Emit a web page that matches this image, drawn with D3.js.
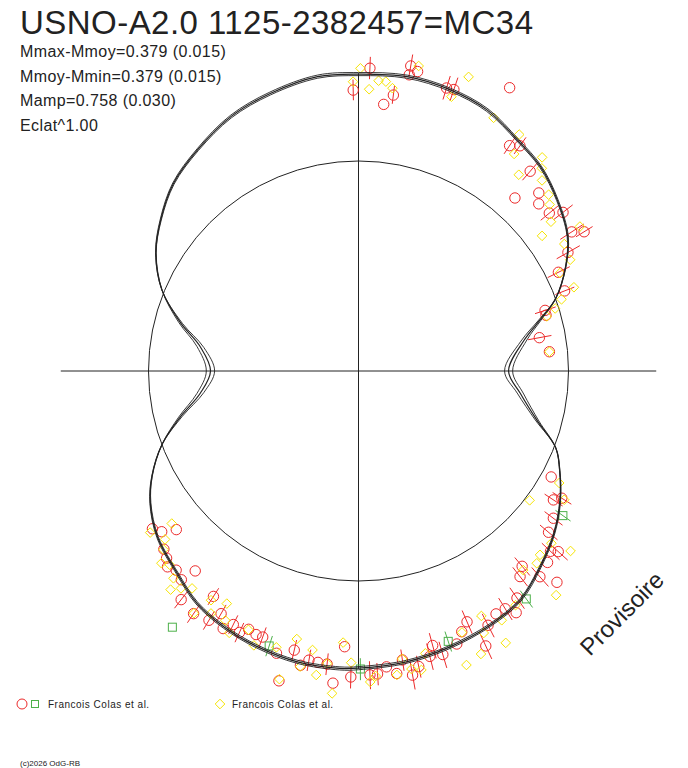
<!DOCTYPE html>
<html>
<head>
<meta charset="utf-8">
<script src="https://cdn.jsdelivr.net/npm/d3@7"></script>
<style>
  body { margin: 0; background: #fff; }
  svg { display: block; }
  text { font-family: "Liberation Sans", Arial, sans-serif; fill: #222; }
</style>
</head>
<body>
<svg id="chart" width="688" height="768"></svg>
<script>
// phase runs 0..1 clockwise from the top, mag is relative to the mean magnitude
var fitPhase = [0.000,0.026,0.050,0.073,0.096,0.116,0.137,0.159,0.176,0.194,0.206,0.221,0.250,0.272,0.293,0.309,0.323,0.341,0.360,0.381,
  0.402,0.424,0.449,0.474,0.500,0.510,0.533,0.556,0.577,0.597,0.616,0.640,0.660,0.675,0.693,0.710,0.728,0.750,0.774,0.792,
  0.812,0.834,0.854,0.876,0.900,0.926,0.951,0.978]
var fitMag = [-0.376,-0.381,-0.372,-0.354,-0.314,-0.287,-0.241,-0.184,-0.107,0.000,0.114,0.241,0.365,0.272,0.136,-0.008,-0.072,-0.144,-0.207,-0.262,
  -0.314,-0.336,-0.353,-0.368,-0.377,-0.380,-0.377,-0.364,-0.347,-0.323,-0.280,-0.235,-0.174,-0.107,0.001,0.145,0.298,0.380,0.296,0.142,
  -0.012,-0.120,-0.185,-0.246,-0.287,-0.330,-0.355,-0.377]

// red circles (with mag error, 0 = no bar drawn)
var redPhase = [0.006,0.997,0.020,0.015,0.027,0.031,0.027,0.048,0.052,0.078,0.094,0.099,0.113,0.117,0.126,0.131,0.140,0.145,0.158,0.162,
  0.168,0.177,0.191,0.200,0.204,0.221,0.234,0.330,0.343,0.339,0.353,0.362,0.370,0.367,0.376,0.389,0.394,0.385,0.380,0.403,
  0.408,0.412,0.418,0.425,0.435,0.440,0.431,0.445,0.454,0.458,0.461,0.468,0.472,0.476,0.480,0.485,0.490,0.494,0.504,0.508,
  0.513,0.517,0.522,0.527,0.531,0.536,0.540,0.545,0.555,0.559,0.564,0.568,0.573,0.577,0.582,0.591,0.586,0.595,0.605,0.612,
  0.609,0.618,0.623,0.627,0.632,0.646,0.641,0.636]
var redMag = [-0.398,-0.316,-0.305,-0.264,-0.421,-0.406,-0.389,-0.374,-0.377,-0.461,-0.278,-0.301,-0.246,-0.114,-0.204,-0.171,-0.179,-0.227,-0.209,-0.253,
  -0.148,-0.065,-0.056,0.074,0.077,0.144,0.098,-0.050,-0.116,-0.144,-0.164,-0.186,-0.246,-0.270,-0.269,-0.210,-0.238,-0.290,-0.350,-0.300,
  -0.345,-0.310,-0.309,-0.333,-0.286,-0.314,-0.398,-0.351,-0.372,-0.329,-0.366,-0.393,-0.419,-0.359,-0.405,-0.377,-0.400,-0.402,-0.409,-0.297,
  -0.434,-0.368,-0.366,-0.363,-0.387,-0.337,-0.457,-0.365,-0.323,-0.323,-0.315,-0.340,-0.323,-0.354,-0.308,-0.265,-0.353,-0.363,-0.348,-0.288,
  -0.224,-0.273,-0.287,-0.265,-0.248,-0.230,-0.207,-0.152]
var redErr = [0.04,0.04,0.035,0,0.04,0,0,0.045,0.045,0,0.04,0.04,0.05,0,0,0,0.05,0.05,0.06,0.04,
  0.06,0.06,0.05,0.06,0,0.07,0,0,0.05,0.05,0.05,0.05,0.05,0.05,0,0.05,0.05,0.05,0,0.05,
  0,0.05,0,0.05,0.05,0,0.05,0,0.05,0.05,0.05,0.04,0.05,0.04,0,0,0.04,0.05,0.04,0,
  0,0.04,0,0.04,0,0.04,0,0,0.04,0,0,0.04,0.04,0,0.04,0.04,0.04,0.04,0.04,0,
  0,0,0,0,0,0,0,0]

// yellow diamonds
var yellowPhase = [0.001,0.997,0.006,0.011,0.015,0.019,0.031,0.057,0.052,0.078,0.095,0.099,0.113,0.109,0.117,0.122,0.131,0.136,0.145,0.149,
  0.158,0.162,0.173,0.178,0.191,0.196,0.201,0.205,0.234,0.331,0.339,0.353,0.366,0.362,0.376,0.381,0.390,0.385,0.406,0.417,
  0.426,0.440,0.429,0.421,0.435,0.444,0.463,0.467,0.472,0.476,0.480,0.491,0.494,0.504,0.509,0.513,0.517,0.522,0.531,0.526,
  0.536,0.540,0.546,0.558,0.564,0.573,0.578,0.582,0.591,0.587,0.595,0.604,0.609,0.613,0.616,0.623,0.627,0.632,0.636,0.645,
  0.641]
var yellowMag = [-0.397,-0.348,-0.320,-0.354,-0.353,-0.331,-0.426,-0.437,-0.349,-0.339,-0.335,-0.261,-0.319,-0.204,-0.286,-0.251,-0.229,-0.204,-0.161,-0.089,
  -0.250,-0.153,-0.141,-0.070,-0.104,-0.027,0.019,0.075,0.098,-0.098,-0.157,-0.023,-0.226,-0.305,-0.225,-0.241,-0.225,-0.383,-0.320,-0.341,
  -0.289,-0.317,-0.352,-0.420,-0.417,-0.434,-0.351,-0.407,-0.397,-0.355,-0.410,-0.407,-0.427,-0.357,-0.281,-0.469,-0.366,-0.412,-0.392,-0.323,
  -0.293,-0.451,-0.344,-0.364,-0.317,-0.358,-0.323,-0.262,-0.283,-0.327,-0.361,-0.288,-0.315,-0.344,-0.304,-0.275,-0.294,-0.250,-0.217,-0.247,
  -0.150]

// green squares
var greenPhase = [0.348,0.399,0.449,0.499,0.550,0.600]
var greenMag = [-0.191,-0.324,-0.331,-0.380,-0.347,-0.446]
var greenErr = [0.04,0.04,0.04,0.04,0.04,0]

var titleText = 'USNO-A2.0 1125-2382457=MC34'
var statLines = ['Mmax-Mmoy=0.379 (0.015)', 'Mmoy-Mmin=0.379 (0.015)', 'Mamp=0.758 (0.030)', 'Eclat^1.00']
var legendLabels = ['Francois Colas et al.', 'Francois Colas et al.']
var mmaxMoy = 0.379

var cx = 358.5, cy = 371, meanR = 210

var svg = d3.select('#chart')
var g = svg.append('g').attr('transform', `translate(${cx},${cy})`)

var angle = d3.scaleLinear().domain([0, 1]).range([0, 2*Math.PI])
var flux = d3.scaleLinear().domain([0, 1]).range([0, meanR]) // eclat^1.00
var rad = m => flux(Math.pow(10, -0.4*m))
var px = (p, m) => [rad(m)*Math.sin(angle(p)), -rad(m)*Math.cos(angle(p))]

var zip = (ps, ms, es) => ps.map((p, i) => ({p, m: ms[i], e: es ? es[i] : 0}))
var fit = zip(fitPhase, fitMag)
var reds = zip(redPhase, redMag, redErr)
var yellows = zip(yellowPhase, yellowMag)
var greens = zip(greenPhase, greenMag, greenErr)

// axes and mean circle
var rMax = rad(-mmaxMoy)
g.append('line').attr('x1', -rMax).attr('x2', rMax).attr('stroke', '#222')
g.append('line').attr('y1', -rMax).attr('y2', rMax).attr('stroke', '#222')
g.append('circle').attr('r', rad(0)).attr('fill', 'none').attr('stroke', '#222')

function errBars(sel, data, color){
  sel.selectAll('line').data(data.filter(d => d.e > 0)).join('line')
    .each(function(d){
      var a = px(d.p, d.m - d.e), b = px(d.p, d.m + d.e)
      d3.select(this).attr('x1', a[0]).attr('y1', a[1]).attr('x2', b[0]).attr('y2', b[1])
    })
    .attr('stroke', color)
}

var red = '#ec2a2a', yellow = '#f6e400', green = '#4db04a'

errBars(g.append('g'), reds, red)
g.append('g').selectAll('circle').data(reds).join('circle')
  .attr('cx', d => px(d.p, d.m)[0])
  .attr('cy', d => px(d.p, d.m)[1])
  .attr('r', 5.2)
  .attr('fill', 'none').attr('stroke', red)

errBars(g.append('g'), greens, green)
g.append('g').selectAll('rect').data(greens).join('rect')
  .attr('x', d => px(d.p, d.m)[0] - 4)
  .attr('y', d => px(d.p, d.m)[1] - 4)
  .attr('width', 8).attr('height', 8)
  .attr('fill', 'none').attr('stroke', green)

var diamond = 'M0,-4.8L4.8,0L0,4.8L-4.8,0Z'
g.append('g').selectAll('path').data(yellows).join('path')
  .attr('transform', d => `translate(${px(d.p, d.m)})`)
  .attr('d', diamond)
  .attr('fill', 'none').attr('stroke', yellow)

// fitted curve and its envelope
var spread = m => m * (m > 0 ? 0.08 : 0.015)
var radial = d3.lineRadial()
  .angle(d => angle(d.p))
  .curve(d3.curveCatmullRomClosed.alpha(0.5))

;[-1, 0, 1].forEach(k => {
  g.append('path')
    .datum(fit)
    .attr('d', radial.radius(d => rad(d.m + k*spread(d.m))))
    .attr('fill', 'none')
    .attr('stroke', '#222')
    .attr('stroke-width', k == 0 ? 1.2 : 0.9)
})

// texts
svg.append('text').text(titleText)
  .attr('x', 20).attr('y', 34)
  .attr('font-size', 33)
  .attr('textLength', 513).attr('lengthAdjust', 'spacing')

svg.append('g').selectAll('text').data(statLines).join('text')
  .text(d => d)
  .attr('x', 20).attr('y', (d, i) => 57 + i*24.5)
  .attr('font-size', 16)
  .attr('letter-spacing', 0.4)

svg.append('text').text('Provisoire')
  .attr('transform', 'translate(590,657) rotate(-45)')
  .attr('font-size', 24)

// legend
var leg = svg.append('g')
leg.append('circle').attr('cx', 22).attr('cy', 704).attr('r', 5).attr('fill', 'none').attr('stroke', red)
leg.append('rect').attr('x', 31.5).attr('y', 700.5).attr('width', 7).attr('height', 7).attr('fill', 'none').attr('stroke', green)
leg.append('path').attr('transform', 'translate(220,704)').attr('d', diamond).attr('fill', 'none').attr('stroke', yellow)
leg.selectAll('text.lab').data(legendLabels).join('text')
  .text(d => d)
  .attr('x', (d, i) => [48, 232][i]).attr('y', 708)
  .attr('font-size', 10).attr('letter-spacing', 0.5)

svg.append('text').text('(c)2026 OdG-RB')
  .attr('x', 20).attr('y', 766)
  .attr('font-size', 8)
</script>
</body>
</html>
